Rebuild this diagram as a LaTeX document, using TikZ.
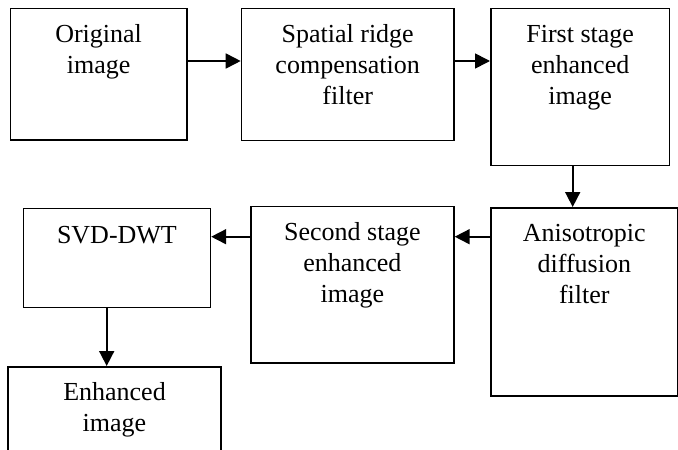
\documentclass[tikz,border=0pt]{standalone}
\usepackage{fontspec}
\setmainfont{Liberation Serif}
\usetikzlibrary{arrows.meta}
\begin{document}
\begin{tikzpicture}[x=1pt,y=1pt,
  box/.style={draw, line width=1.7pt, inner sep=0pt, anchor=north west},
  txt/.style={anchor=north, inner sep=0pt, align=center, font=\fontsize{26}{31}\selectfont},
  flow/.style={line width=1.7pt, -{Triangle[length=15pt,width=15pt]}}]
\useasboundingbox (0,0) rectangle (678,-450);
\clip (0,0) rectangle (678,-450);
% boxes
\node[box, minimum width=176.5pt, minimum height=131.5pt] (b1) at (9.5,-7.5) {};
\node[box, minimum width=212.3pt, minimum height=132pt] (b2) at (240.7,-7.5) {};
\node[box, minimum width=178.7pt, minimum height=157pt] (b3) at (490,-7.5) {};
\node[box, minimum width=187pt, minimum height=188pt] (b4) at (490,-207) {};
\node[box, minimum width=203pt, minimum height=156.5pt] (b5) at (250,-205.5) {};
\node[box, minimum width=186.8pt, minimum height=99.2pt] (b6) at (22.7,-207.5) {};
\node[box, minimum width=212.7pt, minimum height=100pt] (b7) at (7.3,-366) {};
% texts
\node[txt] (t1) at ([yshift=-13.5pt]b1.north) {\strut Original\\image};
\node[txt] (t2) at ([yshift=-13.5pt]b2.north) {\strut Spatial ridge\\compensation\\filter};
\node[txt] (t3) at ([yshift=-13.5pt]b3.north) {\strut First stage\\enhanced\\image};
\node[txt] (t4) at ([yshift=-13pt]b4.north) {\strut Anisotropic\\diffusion\\filter};
\node[txt] (t5) at ([yshift=-13pt]b5.north) {\strut Second stage\\enhanced\\image};
\node[txt] (t6) at ([yshift=-14.5pt]b6.north) {\strut SVD-DWT};
\node[txt] (t7) at ([yshift=-12.5pt]b7.north) {\strut Enhanced\\image};
% guides
\coordinate (r1) at (0,-61);
\coordinate (r2) at (0,-236.7);
\coordinate (c1) at (572.7,0);
\coordinate (c2) at (106.7,0);
% connectors
\draw[flow] (b1.east |- r1) -- (b2.west |- r1);
\draw[flow] (b2.east |- r1) -- (b3.west |- r1);
\draw[flow] (b3.south -| c1) -- (b4.north -| c1);
\draw[flow] (b4.west |- r2) -- (b5.east |- r2);
\draw[flow] (b5.west |- r2) -- (b6.east |- r2);
\draw[flow] (b6.south -| c2) -- (b7.north -| c2);
\end{tikzpicture}
\end{document}
